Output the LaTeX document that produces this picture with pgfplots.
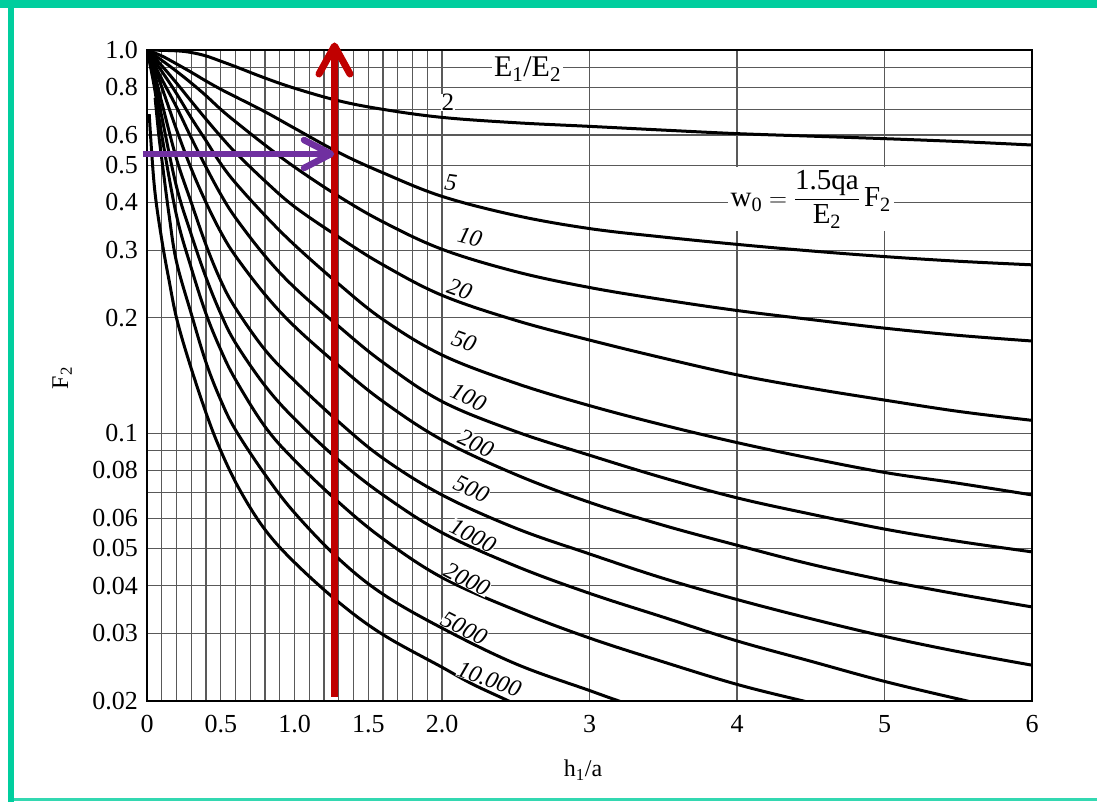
\documentclass[border=0pt]{standalone}
\usepackage{fontspec}
\setmainfont{Liberation Serif}
\usepackage{amsmath}
\usepackage{pgfplots}
\pgfplotsset{compat=1.18}
\definecolor{frameg}{RGB}{0,206,158}
\definecolor{arrred}{RGB}{192,0,0}
\definecolor{arrpur}{RGB}{112,48,160}
\tikzset{
  lbl/.style={fill=white, inner sep=0pt, font=\itshape\fontsize{24}{26}\selectfont},
  crv/.style={black, line width=3pt, smooth, tension=0.6},
}

\begin{document}
\begin{tikzpicture}
\useasboundingbox (0pt,0pt) rectangle (1097pt,802pt);
\fill[white] (0pt,0pt) rectangle (1097pt,802pt);
% green frame of the screenshot
\fill[frameg] (0pt,794pt) rectangle (1097pt,802pt);
\fill[frameg] (8pt,0pt) rectangle (14pt,802pt);
\fill[frameg!80] (14pt,1pt) rectangle (1097pt,4pt);

\begin{axis}[
    at={(147pt,101pt)}, anchor=south west,
    scale only axis, width=885pt, height=651pt,
    xmin=0, xmax=6,
    ymode=log, ymin=0.02, ymax=1,
    xtick={0,0.1,0.2,0.3,0.4,0.5,0.6,0.7,0.8,0.9,1,1.1,1.2,1.3,1.4,1.5,1.6,1.7,1.8,1.9,2,3,4,5,6},
    xticklabels={0,{},{},{},{},0.5,{},{},{},{},1.0,{},{},{},{},1.5,{},{},{},{},2.0,3,4,5,6},
    ytick={0.02,0.03,0.04,0.05,0.06,0.07,0.08,0.09,0.1,0.2,0.3,0.4,0.5,0.6,0.7,0.8,0.9,1},
    yticklabels={0.02,0.03,0.04,0.05,0.06,{},0.08,{},0.1,0.2,0.3,0.4,0.5,0.6,{},0.8,{},1.0},
    major tick length=0pt, minor tick length=0pt,
    xmajorgrids, ymajorgrids,
    grid style={black!65, line width=1.2pt},
    axis line style={black, line width=2.5pt},
    tick label style={font=\fontsize{26}{30}\selectfont},
    xticklabel style={anchor=north, inner sep=0pt, yshift=-14pt},
    yticklabel style={anchor=east, inner sep=0pt, xshift=-9pt},
    xlabel={h\textsubscript{1}/a},
    ylabel={F\textsubscript{2}},
    label style={font=\fontsize{24}{28}\selectfont},
    xlabel style={at={(axis description cs:0.4927,-0.106)}, anchor=center},
    ylabel style={at={(axis description cs:-0.096,0.496)}, anchor=center},
]
% E1/E2 = 2
\addplot[crv] coordinates {(0,1.0)(0.2,0.995)(0.3,0.985)(0.4,0.965)(0.5,0.935)(0.6,0.905)(0.8,0.845)(1.0,0.795)(1.3,0.737)(1.6,0.700)(2.0,0.667)(2.5,0.646)(3.0,0.632)(3.5,0.618)(4.0,0.605)(4.5,0.596)(5.0,0.587)(5.5,0.577)(6.0,0.565)};
% 5
\addplot[crv] coordinates {(0,1.0)(0.1,0.965)(0.2,0.92)(0.3,0.875)(0.4,0.83)(0.5,0.79)(0.6,0.755)(0.8,0.69)(1.0,0.625)(1.3,0.54)(1.6,0.478)(2.0,0.415)(2.5,0.37)(3.0,0.342)(3.5,0.325)(4.0,0.311)(4.5,0.299)(5.0,0.289)(5.5,0.281)(6.0,0.275)};
% 10
\addplot[crv] coordinates {(0,1.0)(0.1,0.94)(0.2,0.88)(0.3,0.82)(0.4,0.76)(0.5,0.70)(0.6,0.65)(0.8,0.565)(1.0,0.495)(1.3,0.415)(1.6,0.356)(2.0,0.302)(2.5,0.264)(3.0,0.24)(3.5,0.223)(4.0,0.209)(4.5,0.198)(5.0,0.188)(5.5,0.18)(6.0,0.174)};
% 20
\addplot[crv] coordinates {(0,1.0)(0.1,0.91)(0.2,0.82)(0.3,0.735)(0.4,0.66)(0.5,0.595)(0.6,0.54)(0.8,0.455)(1.0,0.39)(1.3,0.325)(1.6,0.275)(2.0,0.229)(2.5,0.197)(3.0,0.175)(3.5,0.157)(4.0,0.142)(4.5,0.131)(5.0,0.122)(5.5,0.114)(6.0,0.108)};
% 50
\addplot[crv] coordinates {(0,1.0)(0.1,0.88)(0.2,0.77)(0.3,0.665)(0.4,0.58)(0.5,0.505)(0.6,0.45)(0.8,0.37)(1.0,0.31)(1.3,0.245)(1.6,0.198)(2.0,0.16)(2.5,0.135)(3.0,0.118)(3.5,0.105)(4.0,0.0945)(4.5,0.086)(5.0,0.079)(5.5,0.074)(6.0,0.069)};
% 100
\addplot[crv] coordinates {(0,1.0)(0.1,0.84)(0.2,0.71)(0.3,0.59)(0.4,0.495)(0.5,0.42)(0.6,0.365)(0.8,0.29)(1.0,0.24)(1.3,0.19)(1.6,0.153)(2.0,0.121)(2.5,0.101)(3.0,0.0876)(3.5,0.0765)(4.0,0.0678)(4.5,0.0615)(5.0,0.0562)(5.5,0.0522)(6.0,0.049)};
% 200
\addplot[crv] coordinates {(0,1.0)(0.05,0.9)(0.1,0.8)(0.2,0.62)(0.3,0.49)(0.4,0.4)(0.5,0.335)(0.6,0.29)(0.8,0.23)(1.0,0.19)(1.3,0.15)(1.6,0.121)(2.0,0.096)(2.5,0.078)(3.0,0.066)(3.5,0.0575)(4.0,0.051)(4.5,0.0455)(5.0,0.0413)(5.5,0.038)(6.0,0.0352)};
% 500
\addplot[crv] coordinates {(0,1.0)(0.05,0.87)(0.1,0.73)(0.2,0.52)(0.3,0.40)(0.4,0.31)(0.5,0.25)(0.6,0.212)(0.8,0.165)(1.0,0.137)(1.3,0.107)(1.6,0.086)(2.0,0.069)(2.5,0.0565)(3.0,0.0484)(3.5,0.0418)(4.0,0.0368)(4.5,0.0328)(5.0,0.0295)(5.5,0.0269)(6.0,0.0248)};
% 1000
\addplot[crv] coordinates {(0,1.0)(0.05,0.84)(0.1,0.67)(0.2,0.44)(0.3,0.33)(0.4,0.255)(0.5,0.205)(0.6,0.172)(0.8,0.133)(1.0,0.109)(1.3,0.085)(1.6,0.069)(2.0,0.055)(2.5,0.045)(3.0,0.0382)(3.5,0.0331)(4.0,0.0287)(4.5,0.0254)(5.0,0.0225)(5.56,0.02)(5.8,0.0191)};
% 2000
\addplot[crv] coordinates {(0,1.0)(0.05,0.8)(0.1,0.6)(0.2,0.37)(0.3,0.27)(0.4,0.205)(0.5,0.165)(0.6,0.138)(0.8,0.104)(1.0,0.085)(1.3,0.066)(1.6,0.053)(2.0,0.042)(2.5,0.0345)(3.0,0.0292)(3.5,0.0253)(4.0,0.0221)(4.45,0.02)(4.7,0.019)};
% 5000
\addplot[crv] coordinates {(0.055,0.75)(0.08,0.6)(0.1,0.52)(0.15,0.37)(0.2,0.28)(0.3,0.205)(0.4,0.153)(0.5,0.122)(0.6,0.102)(0.8,0.078)(1.0,0.062)(1.3,0.047)(1.6,0.038)(2.0,0.031)(2.5,0.025)(3.0,0.0213)(3.2,0.02)(3.4,0.0189)};
% 10000
\addplot[crv] coordinates {(0.015,0.68)(0.05,0.44)(0.1,0.32)(0.15,0.25)(0.2,0.2)(0.28,0.156)(0.4,0.113)(0.5,0.09)(0.63,0.071)(0.8,0.056)(1.0,0.046)(1.3,0.0362)(1.6,0.0298)(2.0,0.0245)(2.2,0.0222)(2.44,0.0201)(2.6,0.0188)};

\node[fill=white, inner sep=2pt, font=\fontsize{30}{32}\selectfont] at (axis cs:2.58,0.892) {E\textsubscript{1}/E\textsubscript{2}};
\node[fill=white, inner sep=0.5pt, font=\fontsize{25}{27}\selectfont] at (axis cs:2.04,0.73) {2};
\node[lbl, rotate=-8] at (axis cs:2.06,0.45) {5};
\node[lbl, rotate=-15] at (axis cs:2.19,0.325) {10};
\node[lbl, rotate=-20] at (axis cs:2.12,0.237) {20};
\node[lbl, rotate=-20] at (axis cs:2.15,0.174) {50};
\node[lbl, rotate=-25] at (axis cs:2.18,0.124) {100};
\node[lbl, rotate=-25] at (axis cs:2.23,0.094) {200};
\node[lbl, rotate=-25] at (axis cs:2.2,0.0715) {500};
\node[lbl, rotate=-27] at (axis cs:2.21,0.054) {1000};
\node[lbl, rotate=-27] at (axis cs:2.17,0.0415) {2000};
\node[lbl, rotate=-27] at (axis cs:2.15,0.031) {5000};
\node[lbl, rotate=-20] at (axis cs:2.32,0.0228) {10.000};
\node[fill=white, inner sep=3pt, font=\fontsize{29}{32}\selectfont] at (axis cs:4.5,0.408)
  {$\text{w}_{\text{0}} = \dfrac{\text{1.5qa}}{\text{E}_{\text{2}}}\,\text{F}_{\text{2}}$};
\end{axis}

% reading arrows
\draw[arrred, line width=7pt] (334.5pt,105pt) -- (334.5pt,756pt);
\draw[arrred, line width=7pt, line cap=round, line join=round] (319pt,728pt) -- (334.5pt,756pt) -- (350pt,728pt);
\draw[arrpur, line width=6.5pt] (143pt,648pt) -- (331pt,648pt);
\draw[arrpur, line width=6.5pt, line cap=round, line join=round] (304pt,662pt) -- (331pt,648pt) -- (304pt,634pt);
\end{tikzpicture}
\end{document}
